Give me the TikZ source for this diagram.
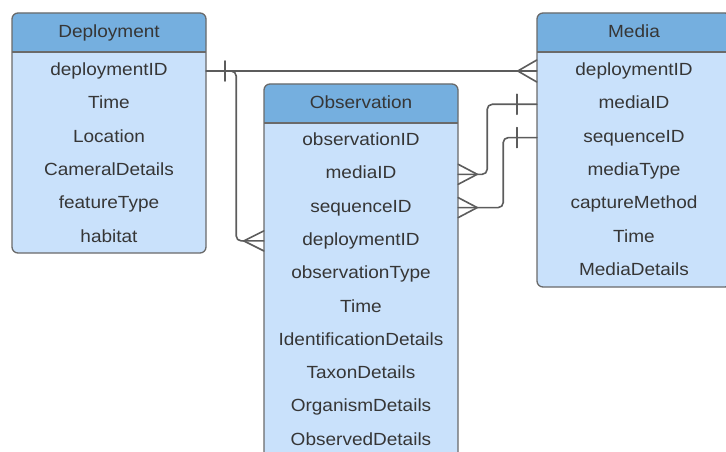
\documentclass[tikz,border=0pt]{standalone}
\usepackage{fontspec}
\setmainfont{Liberation Sans}[FakeStretch=1.08]
\usetikzlibrary{calc}
\definecolor{hdr}{HTML}{75AFDF}
\definecolor{bdy}{HTML}{C9E1FB}
\definecolor{brd}{HTML}{6A6A6A}
\definecolor{txt}{HTML}{363636}
\definecolor{lnk}{HTML}{5C5C5C}
\tikzset{
  boxline/.style={draw=brd, line width=1.3pt},
  rowtxt/.style={inner sep=0pt, minimum width=194pt, minimum height=30pt,
    text height=12.5pt, text depth=3.5pt, text=txt, font=\fontsize{17.6}{20}\selectfont},
  link/.style={draw=lnk, line width=1.6pt, line cap=round},
}
% entity: #1 name, #2 left x, #3 top y, #4 bottom y, #5 title
\newcommand{\entitybox}[5]{%
  \fill[bdy, rounded corners=6pt] (#2pt,-#3pt) rectangle ++(194pt,-#4pt+#3pt);
  \fill[hdr, rounded corners=6pt] (#2pt,-#3pt) rectangle ++(194pt,-39pt);
  \fill[hdr] (#2pt,-#3pt-20pt) rectangle ++(194pt,-19pt);
  \draw[boxline] (#2pt,-#3pt-39pt) -- ++(194pt,0);
  \draw[boxline, rounded corners=6pt] (#2pt,-#3pt) rectangle ++(194pt,-#4pt+#3pt);
  \node[rowtxt] (#1) at (#2pt+97pt,-#3pt-20pt) {#5};
}
\begin{document}
\begin{tikzpicture}[x=1pt,y=1pt]
\clip (0,0) rectangle (726,-452);
\useasboundingbox (0,0) rectangle (726,-452);
% Deployment
\entitybox{dep}{12}{13}{253}{Deployment}
\foreach \t [count=\i] in {deploymentID,Time,Location,CameralDetails,featureType,habitat}
  \node[rowtxt] (d\i) at (109,{-71-33.3*(\i-1)}) {\t};
% Media
\entitybox{med}{537}{13}{287}{Media}
\foreach \t [count=\i] in {deploymentID,mediaID,sequenceID,mediaType,captureMethod,Time,MediaDetails}
  \node[rowtxt] (m\i) at (634,{-71-33.3*(\i-1)}) {\t};
% Observation
\entitybox{obs}{264}{84}{480}{Observation}
\foreach \t [count=\i] in {observationID,mediaID,sequenceID,deploymentID,observationType,Time,IdentificationDetails,TaxonDetails,OrganismDetails,ObservedDetails}
  \node[rowtxt] (o\i) at (361,{-141-33.3*(\i-1)}) {\t};

% Deployment -> Media
\draw[link] (d1.east) -- (m1.west);
\draw[link] ($(d1.east)+(19,-10)$) -- ($(d1.east)+(19,10)$);
\draw[link] ($(m1.west)+(0,11)$) -- ($(m1.west)+(-19,0)$) -- ($(m1.west)+(0,-11)$);
% Deployment -> Observation
\draw[link, rounded corners=5pt] (d1.east) -- ($(d1.east)+(30,0)$) |- (o4.west);
\draw[link] ($(o4.west)+(0,10)$) -- ($(o4.west)+(-20,0)$) -- ($(o4.west)+(0,-10)$);
% Observation mediaID -> Media mediaID
\draw[link, rounded corners=5pt] (o2.east) -- ($(o2.east)+(29,0)$) |- (m2.west);
\draw[link] ($(o2.east)+(0,10)$) -- ($(o2.east)+(19,0)$) -- ($(o2.east)+(0,-10)$);
\draw[link] ($(m2.west)+(-20,-10)$) -- ($(m2.west)+(-20,10)$);
% Observation sequenceID -> Media sequenceID
\draw[link, rounded corners=5pt] (o3.east) -- ($(o3.east)+(45,0)$) |- (m3.west);
\draw[link] ($(o3.east)+(0,10)$) -- ($(o3.east)+(19,0)$) -- ($(o3.east)+(0,-10)$);
\draw[link] ($(m3.west)+(-20,-10)$) -- ($(m3.west)+(-20,10)$);
\end{tikzpicture}
\end{document}
